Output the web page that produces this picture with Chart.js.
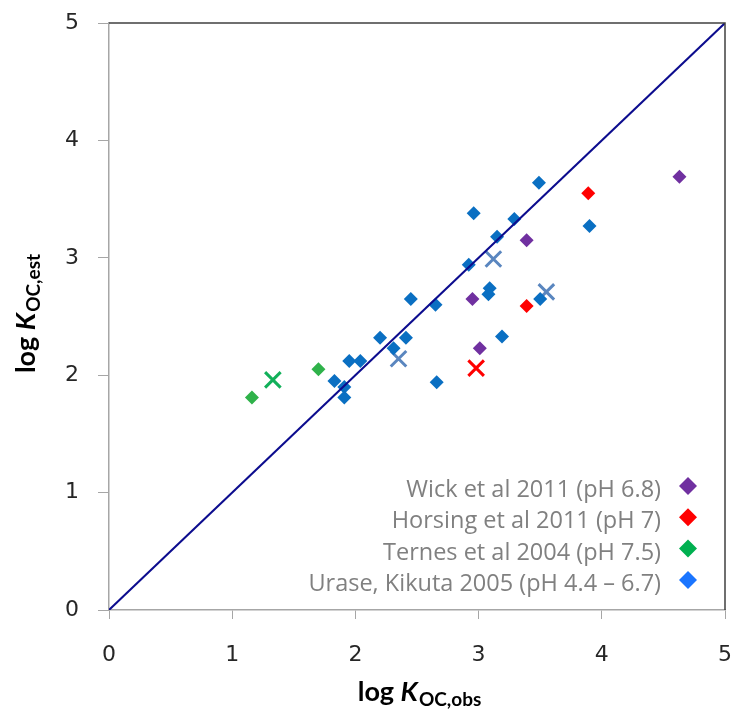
<!DOCTYPE html>
<html>
<head>
<meta charset="utf-8">
<script src="https://cdn.jsdelivr.net/npm/chart.js@4.4.0/dist/chart.umd.min.js"></script>
<style>
  body { margin: 0; background: #fff; }
</style>
</head>
<body>
<canvas id="c" width="734" height="710"></canvas>
<script>
// values (log Koc obs / log Koc est)
const wickX = [4.63, 3.39, 2.95, 3.01]
const wickY = [3.69, 3.15, 2.65, 2.23]
const horsingX = [3.89, 3.39]
const horsingY = [3.55, 2.59]
const ternesX = [1.16, 1.70]
const ternesY = [1.81, 2.05]
const uraseX = [3.49, 2.96, 3.29, 3.15, 3.90, 2.92, 3.09, 3.08, 3.50, 3.19, 2.65, 2.45, 2.20, 2.41, 2.31, 1.95, 2.04, 1.83, 1.91, 1.91, 2.66]
const uraseY = [3.64, 3.38, 3.33, 3.18, 3.27, 2.94, 2.74, 2.69, 2.65, 2.33, 2.60, 2.65, 2.32, 2.32, 2.23, 2.12, 2.12, 1.95, 1.90, 1.81, 1.94]
// crosses (averages)
const horsingMeanX = [2.98]
const horsingMeanY = [2.06]
const ternesMeanX = [1.33]
const ternesMeanY = [1.96]
const uraseMeanX = [2.35, 3.12, 3.55]
const uraseMeanY = [2.14, 2.99, 2.71]
// 1:1 line
const lineX = [0, 5]
const lineY = [0, 5]
const ticks = [0, 1, 2, 3, 4, 5]

const seriesNames = ["Wick et al 2011 (pH 6.8)", "Horsing et al 2011 (pH 7)", "Ternes et al 2004 (pH 7.5)", "Urase, Kikuta 2005 (pH 4.4 \u2013 6.7)"]
const legendColors = ["#7030a0", "#ff0000", "#00b050", "#1a75ff"]

function pts(xs, ys) {
    let out = []
    for (let i = 0; i < xs.length; i++) out.push({ x: xs[i], y: ys[i] })
    return out
}

function diamonds(label, xs, ys, color) {
    return {
        label: label,
        data: pts(xs, ys),
        pointStyle: 'rectRot',
        pointRadius: 7,
        backgroundColor: color,
        borderColor: color,
        borderWidth: 0,
        order: 2
    }
}

function crosses(xs, ys, color) {
    return {
        label: '',
        data: pts(xs, ys),
        pointStyle: 'crossRot',
        pointRadius: 11,
        borderWidth: 3,
        borderColor: color,
        backgroundColor: color,
        order: 2
    }
}

// frame, axis titles, legend
const extras = {
    id: 'extras',
    afterDraw(chart) {
        let ctx = chart.ctx
        let a = chart.chartArea
        ctx.save()
        ctx.strokeStyle = '#404040'
        ctx.lineWidth = 1.5
        ctx.beginPath()
        ctx.moveTo(a.left, a.top)
        ctx.lineTo(a.right, a.top)
        ctx.lineTo(a.right, a.bottom)
        ctx.stroke()

        // axis titles with subscripts
        function title(sub, cx, cy) {
            ctx.fillStyle = '#000'
            ctx.textBaseline = 'alphabetic'
            ctx.textAlign = 'left'
            let f1 = 'bold 27px Lato'
            let f2 = 'italic bold 27px Lato'
            let f3 = 'bold 19px Lato'
            ctx.font = f1
            let w1 = ctx.measureText('log ').width
            ctx.font = f2
            let w2 = ctx.measureText('K').width
            ctx.font = f3
            let w3 = ctx.measureText(sub).width
            let x = cx - (w1 + w2 + w3) / 2
            ctx.font = f1
            ctx.fillText('log ', x, cy)
            ctx.font = f2
            ctx.fillText('K', x + w1, cy)
            ctx.font = f3
            ctx.fillText(sub, x + w1 + w2 + 1, cy + 5)
        }
        title('OC,obs', 419, 701)
        ctx.save()
        ctx.translate(35, 314)
        ctx.rotate(-Math.PI / 2)
        title('OC,est', 0, 0)
        ctx.restore()

        // legend, text right aligned with marker on the right
        ctx.font = '23.5px "Open Sans"'
        ctx.textAlign = 'right'
        ctx.textBaseline = 'alphabetic'
        for (let i = 0; i < seriesNames.length; i++) {
            let y = 497 + i * 31.3
            ctx.fillStyle = '#808080'
            ctx.fillText(seriesNames[i], 661, y)
            let mx = 688, my = y - 11, r = 9
            ctx.fillStyle = legendColors[i]
            ctx.beginPath()
            ctx.moveTo(mx, my - r)
            ctx.lineTo(mx + r, my)
            ctx.lineTo(mx, my + r)
            ctx.lineTo(mx - r, my)
            ctx.closePath()
            ctx.fill()
        }
        ctx.restore()
    }
}

let chart = new Chart(document.getElementById('c'), {
    type: 'scatter',
    data: {
        datasets: [
            {
                label: '1:1',
                data: pts(lineX, lineY),
                showLine: true,
                pointRadius: 0,
                borderColor: '#0c0c8e',
                borderWidth: 2,
                order: 0
            },
            diamonds(seriesNames[0], wickX, wickY, '#7030a0'),
            diamonds(seriesNames[1], horsingX, horsingY, '#ff0000'),
            diamonds(seriesNames[2], ternesX, ternesY, '#2fb24a'),
            diamonds(seriesNames[3], uraseX, uraseY, '#0a6fc2'),
            crosses(horsingMeanX, horsingMeanY, '#ff0000'),
            crosses(ternesMeanX, ternesMeanY, '#12b05a'),
            crosses(uraseMeanX, uraseMeanY, '#5a86bf')
        ]
    },
    options: {
        responsive: false,
        animation: false,
        layout: { autoPadding: false, padding: { top: 23, right: 9, left: 0, bottom: 0 } },
        plugins: { legend: { display: false }, tooltip: { enabled: false } },
        scales: {
            x: {
                min: 0,
                max: 5,
                border: { color: '#a6a6a6', width: 1.5 },
                grid: { drawOnChartArea: false, drawTicks: true, tickLength: 9, color: '#a6a6a6' },
                ticks: {
                    stepSize: 1,
                    padding: 23,
                    color: '#262626',
                    font: { family: 'DejaVu Sans', size: 22 },
                    callback: v => ticks.includes(v) ? String(v) : ''
                },
                afterFit: s => {
                    s.height = 100
                    s.paddingLeft = 0
                    s.paddingRight = 0
                }
            },
            y: {
                min: 0,
                max: 5,
                border: { color: '#a6a6a6', width: 1.5 },
                grid: { drawOnChartArea: false, drawTicks: true, tickLength: 11, color: '#a6a6a6' },
                ticks: {
                    stepSize: 1,
                    padding: 19,
                    color: '#262626',
                    font: { family: 'DejaVu Sans', size: 22 },
                    callback: v => ticks.includes(v) ? String(v) : ''
                },
                afterFit: s => {
                    s.width = 109
                    s.paddingTop = 0
                    s.paddingBottom = 0
                }
            }
        }
    },
    plugins: [extras]
})
</script>
</body>
</html>
